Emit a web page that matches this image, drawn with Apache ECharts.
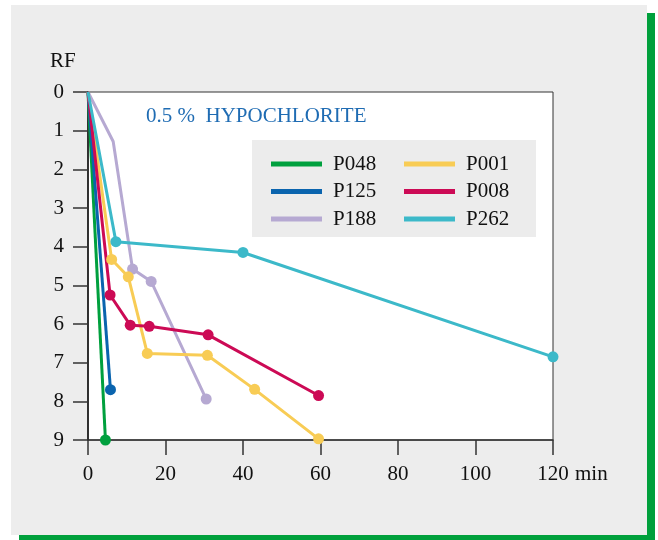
<!DOCTYPE html>
<html>
<head>
<meta charset="utf-8">
<script src="https://cdn.jsdelivr.net/npm/echarts@6/dist/echarts.min.js"></script>
<style>
html,body{margin:0;padding:0;background:#fff;}
#chart{width:658px;height:540px;}
</style>
</head>
<body>
<div id="chart"></div>
<script>
// ---- data (time in min, RF) ----
var xTicks = [0, 20, 40, 60, 80, 100, 120];
var yTicks = [0, 1, 2, 3, 4, 5, 6, 7, 8, 9];
var seriesNames = ['P048', 'P125', 'P188', 'P001', 'P008', 'P262'];

var p048Time = [0, 4.5];
var p048RF   = [0, 9.0];

var p125Time = [0, 5.8];
var p125RF   = [0, 7.7];

var p188Time = [0, 6.5, 11.5, 16.3, 30.5];
var p188RF   = [0, 1.28, 4.58, 4.9, 7.94];

var p001Time = [0, 6.1, 10.4, 15.3, 30.8, 43, 59.5];
var p001RF   = [0, 4.33, 4.78, 6.76, 6.81, 7.69, 8.97];

var p008Time = [0, 5.7, 10.9, 15.8, 31, 59.5];
var p008RF   = [0, 5.25, 6.03, 6.06, 6.28, 7.85];

var p262Time = [0, 7.2, 40, 120];
var p262RF   = [0, 3.87, 4.15, 6.85];

var titleText = '0.5 %  HYPOCHLORITE';

// ---- build ----
var FONT = "'Liberation Serif', 'DejaVu Serif', serif";
var FS = 21;
function pairs(xs, ys) { return xs.map(function (x, i) { return [x, ys[i]]; }); }

var seriesDefs = [
  { name: 'P048', data: pairs(p048Time, p048RF), color: '#00a03e', noMark: [0] },
  { name: 'P125', data: pairs(p125Time, p125RF), color: '#0a64ae', noMark: [0] },
  { name: 'P188', data: pairs(p188Time, p188RF), color: '#b6a9d2', noMark: [0, 1] },
  { name: 'P001', data: pairs(p001Time, p001RF), color: '#f8cc55', noMark: [0] },
  { name: 'P008', data: pairs(p008Time, p008RF), color: '#cc0a55', noMark: [0] },
  { name: 'P262', data: pairs(p262Time, p262RF), color: '#3cb9c9', noMark: [0] }
];

var series = seriesDefs.map(function (d) {
  return {
    name: d.name,
    type: 'line',
    data: d.data,
    color: d.color,
    symbol: 'circle',
    symbolSize: function (v, p) { return d.noMark.indexOf(p.dataIndex) >= 0 ? 0 : 11; },
    showSymbol: true,
    lineStyle: { width: 3, color: d.color },
    itemStyle: { color: d.color },
    animation: false,
    z: 3
  };
});

var legendCommon = {
  orient: 'vertical',
  icon: 'rect',
  itemWidth: 51,
  itemHeight: 5,
  itemGap: 6.5,
  padding: 0,
  textStyle: { fontFamily: FONT, fontSize: FS, color: '#111', lineHeight: FS, padding: [0, 0, 0, 6] },
  selectedMode: false,
  z: 10
};

var chart = echarts.init(document.getElementById('chart'), null, { renderer: 'canvas' });
chart.setOption({
  animation: false,
  title: {
    text: titleText,
    left: 146, top: 106, padding: 0,
    textStyle: { fontFamily: FONT, fontSize: FS, fontWeight: 'normal', color: '#1f6cb3' }
  },
  legend: [
    Object.assign({ data: [seriesNames[0], seriesNames[1], seriesNames[2]], left: 271, top: 153.5 }, legendCommon),
    Object.assign({ data: [seriesNames[3], seriesNames[4], seriesNames[5]], left: 404, top: 153.5 }, legendCommon)
  ],
  graphic: [
    { type: 'rect', z: -20, shape: { x: 19, y: 13, width: 636, height: 527 }, style: { fill: '#00a03c' } },
    { type: 'rect', z: -10, shape: { x: 11, y: 5, width: 636, height: 530 }, style: { fill: '#ededed' } },
    { type: 'rect', z: 5, shape: { x: 252, y: 140, width: 284, height: 97 }, style: { fill: '#ececec' } },
    { type: 'text', z: 10, left: 50, top: 51, style: { text: 'RF', font: FS + "px " + FONT, fill: '#111' } },
    { type: 'text', z: 10, left: 575, top: 464, style: { text: 'min', font: FS + "px " + FONT, fill: '#111' } }
  ],
  grid: {
    left: 88, top: 92, width: 465, height: 348,
    show: true, backgroundColor: '#ffffff', borderColor: '#333', borderWidth: 1
  },
  xAxis: {
    type: 'value', position: 'bottom', min: xTicks[0], max: xTicks[xTicks.length - 1], interval: 20,
    axisLine: { show: true, onZero: false, lineStyle: { color: '#333', width: 1.5 } },
    axisTick: { show: true, length: 15, lineStyle: { color: '#333', width: 1.5 } },
    axisLabel: { margin: 24, fontFamily: FONT, fontSize: FS, color: '#111' },
    splitLine: { show: false }
  },
  yAxis: {
    type: 'value', inverse: true, min: yTicks[0], max: yTicks[yTicks.length - 1], interval: 1,
    axisLine: { show: true, onZero: false, lineStyle: { color: '#111', width: 1.5 } },
    axisTick: { show: true, length: 15, lineStyle: { color: '#333', width: 1.5 } },
    axisLabel: { margin: 24, fontFamily: FONT, fontSize: FS, color: '#111' },
    splitLine: { show: false }
  },
  series: series
});
</script>
</body>
</html>
